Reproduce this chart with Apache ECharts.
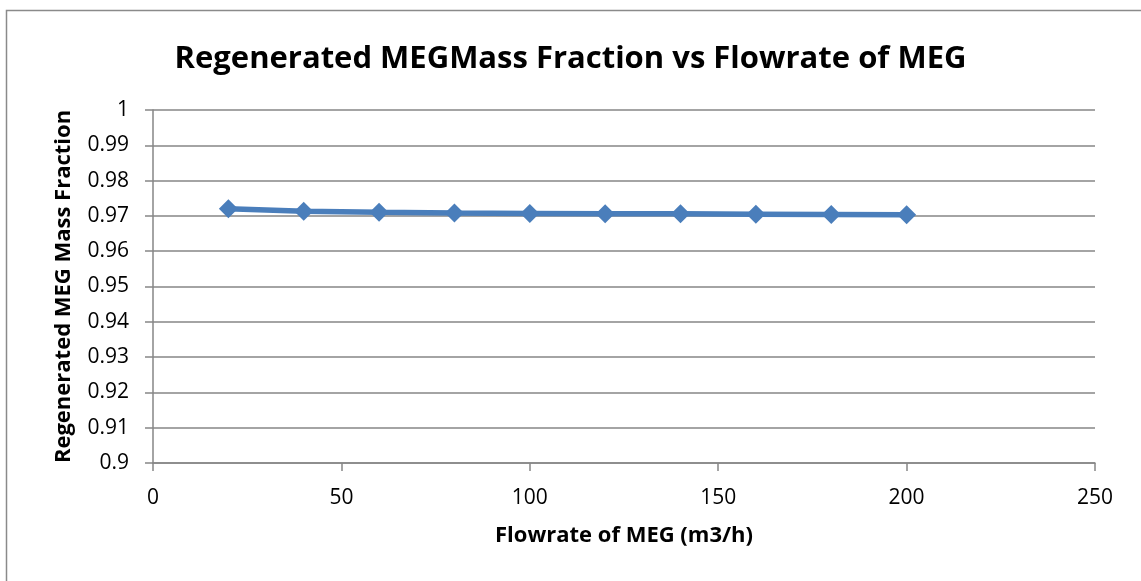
<!DOCTYPE html>
<html>
<head>
<meta charset="utf-8">
<script src="https://cdn.jsdelivr.net/npm/echarts@6/dist/echarts.min.js"></script>
<style>html,body{margin:0;padding:0;background:#fff;}#c{width:1141px;height:581px;}</style>
</head>
<body>
<div id="c"></div>
<script>
const flowrate = [20, 40, 60, 80, 100, 120, 140, 160, 180, 200];
const megFraction = [0.972, 0.9713, 0.9710, 0.9708, 0.9707, 0.9706, 0.9706, 0.9705, 0.9704, 0.9703];
const titleText = 'Regenerated MEGMass Fraction vs Flowrate of MEG';
const xName = 'Flowrate of MEG (m3/h)';
const yName = 'Regenerated MEG Mass Fraction';

const font = '"Open Sans", "Noto Sans", sans-serif';
const chart = echarts.init(document.getElementById('c'), null, {renderer: 'canvas'});
chart.setOption({
  backgroundColor: '#fff',
  animation: false,
  graphic: [{
    type: 'rect', shape: {x: 6.5, y: 10.5, width: 1200, height: 700},
    style: {fill: 'none', stroke: '#8a8a8a', lineWidth: 1.5}, silent: true
  }],
  title: {
    text: titleText, left: 'center', top: 39,
    textStyle: {fontFamily: font, fontSize: 31, fontWeight: 'bold', color: '#000'}
  },
  grid: {left: 153, right: 46, top: 110, bottom: 118},
  xAxis: {
    type: 'value', min: 0, max: 250, interval: 50,
    name: xName, nameLocation: 'middle', nameGap: 62,
    nameTextStyle: {fontFamily: font, fontSize: 22, fontWeight: 'bold', color: '#000'},
    axisLine: {show: true, lineStyle: {color: '#868686', width: 1.5}},
    axisTick: {show: true, length: 8, inside: false, lineStyle: {color: '#868686', width: 1.5}},
    axisLabel: {fontFamily: font, fontSize: 21, color: '#000', margin: 25},
    splitLine: {show: false}
  },
  yAxis: {
    type: 'value', min: 0.9, max: 1, interval: 0.01,
    name: yName, nameLocation: 'middle', nameGap: 78, nameRotate: 90,
    nameTextStyle: {fontFamily: font, fontSize: 22, fontWeight: 'bold', color: '#000'},
    axisLine: {show: true, lineStyle: {color: '#868686', width: 1.5}},
    axisTick: {show: true, length: 8, lineStyle: {color: '#868686', width: 1.5}},
    axisLabel: {fontFamily: font, fontSize: 21, color: '#000', margin: 24,
      formatter: v => String(parseFloat(v.toFixed(2)))},
    splitLine: {show: true, lineStyle: {color: '#868686', width: 1.5}}
  },
  series: [{
    type: 'line', data: flowrate.map((x, i) => [x, megFraction[i]]),
    symbol: 'diamond', symbolSize: 19,
    lineStyle: {color: '#4a7ebb', width: 5.5},
    itemStyle: {color: '#4a7ebb'}
  }]
});
</script>
</body>
</html>
